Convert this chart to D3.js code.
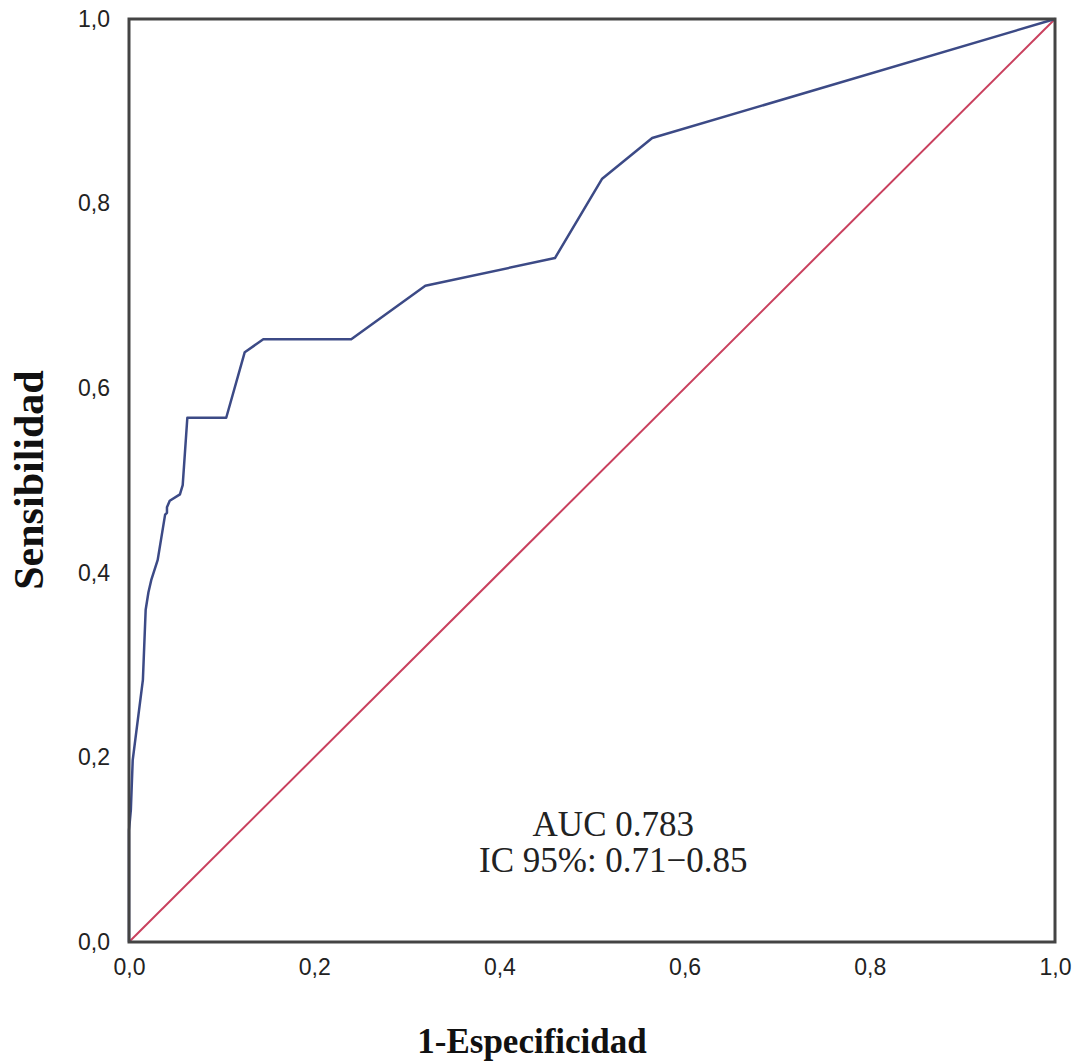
<!DOCTYPE html>
<html>
<head>
<meta charset="utf-8">
<script src="https://cdn.jsdelivr.net/npm/d3@7"></script>
<style>
  body { margin: 0; background: #fff; }
</style>
</head>
<body>
<div id="chart"></div>
<script>
// ROC curve points (1-specificity, sensitivity)
const fpr = [0, 0, 0.002, 0.004, 0.015, 0.018, 0.021, 0.024, 0.031, 0.039, 0.041, 0.041, 0.044, 0.055, 0.058, 0.063, 0.105, 0.125, 0.145, 0.24, 0.32, 0.46, 0.511, 0.565, 1];
const tpr = [0, 0.121, 0.143, 0.197, 0.284, 0.36, 0.379, 0.392, 0.414, 0.463, 0.465, 0.471, 0.478, 0.485, 0.495, 0.568, 0.568, 0.639, 0.653, 0.653, 0.711, 0.741, 0.827, 0.871, 1];
const refLine = [0, 1];
const ticks = [0, 0.2, 0.4, 0.6, 0.8, 1.0];
const annotation = ["AUC 0.783", "IC 95%: 0.71\u22120.85"];

const width = 1077, height = 1064;
const margin = {top: 19, right: 22, bottom: 122, left: 129};
const plotWidth = width - margin.left - margin.right;
const plotHeight = height - margin.top - margin.bottom;

const svg = d3.select("#chart").append("svg")
    .attr("width", width)
    .attr("height", height);

const g = svg.append("g")
    .attr("transform", "translate(" + margin.left + "," + margin.top + ")");

const xScale = d3.scaleLinear().domain([0, 1]).range([0, plotWidth]);
const yScale = d3.scaleLinear().domain([0, 1]).range([plotHeight, 0]);

const fmt = d => d3.format(".1f")(d).replace(".", ",");

// axes (labels only, frame drawn separately)
g.append("g")
    .attr("transform", "translate(0," + plotHeight + ")")
    .call(d3.axisBottom(xScale).tickValues(ticks).tickFormat(fmt).tickSize(0).tickPadding(17))
    .call(a => a.select(".domain").remove())
    .selectAll("text")
    .attr("font-family", "'Liberation Sans', Arial, sans-serif")
    .attr("font-size", "23px")
    .attr("fill", "#222");

g.append("g")
    .call(d3.axisLeft(yScale).tickValues(ticks).tickFormat(fmt).tickSize(0).tickPadding(19))
    .call(a => a.select(".domain").remove())
    .selectAll("text")
    .attr("font-family", "'Liberation Sans', Arial, sans-serif")
    .attr("font-size", "23px")
    .attr("fill", "#222");

// reference diagonal
g.append("line")
    .attr("x1", xScale(refLine[0])).attr("y1", yScale(refLine[0]))
    .attr("x2", xScale(refLine[1])).attr("y2", yScale(refLine[1]))
    .attr("stroke", "#c9405e")
    .attr("stroke-width", 2);

// ROC curve
const rocData = fpr.map((x, i) => ({x: x, y: tpr[i]}));
g.append("path")
    .datum(rocData)
    .attr("fill", "none")
    .attr("stroke", "#3c4a86")
    .attr("stroke-width", 2.5)
    .attr("stroke-linejoin", "round")
    .attr("d", d3.line().x(d => xScale(d.x)).y(d => yScale(d.y)));

// frame
g.append("rect")
    .attr("x", 0).attr("y", 0)
    .attr("width", plotWidth).attr("height", plotHeight)
    .attr("fill", "none")
    .attr("stroke", "#444")
    .attr("stroke-width", 3);

// annotation
g.selectAll(".note")
    .data(annotation)
    .enter()
    .append("text")
    .attr("class", "note")
    .attr("x", xScale(0.523))
    .attr("y", (d, i) => yScale(0.115) + i * 36)
    .attr("text-anchor", "middle")
    .attr("font-family", "'Liberation Serif', 'Times New Roman', serif")
    .attr("font-size", "35px")
    .attr("fill", "#222")
    .text(d => d);

// axis titles
svg.append("text")
    .attr("x", 532).attr("y", 1053)
    .attr("text-anchor", "middle")
    .attr("font-family", "'Liberation Serif', 'Times New Roman', serif")
    .attr("font-weight", "bold")
    .attr("font-size", "35px")
    .attr("fill", "#111")
    .text("1-Especificidad");

svg.append("text")
    .attr("transform", "translate(43,480) rotate(-90)")
    .attr("text-anchor", "middle")
    .attr("font-family", "'Liberation Serif', 'Times New Roman', serif")
    .attr("font-weight", "bold")
    .attr("font-size", "42px")
    .attr("fill", "#111")
    .text("Sensibilidad");
</script>
</body>
</html>
